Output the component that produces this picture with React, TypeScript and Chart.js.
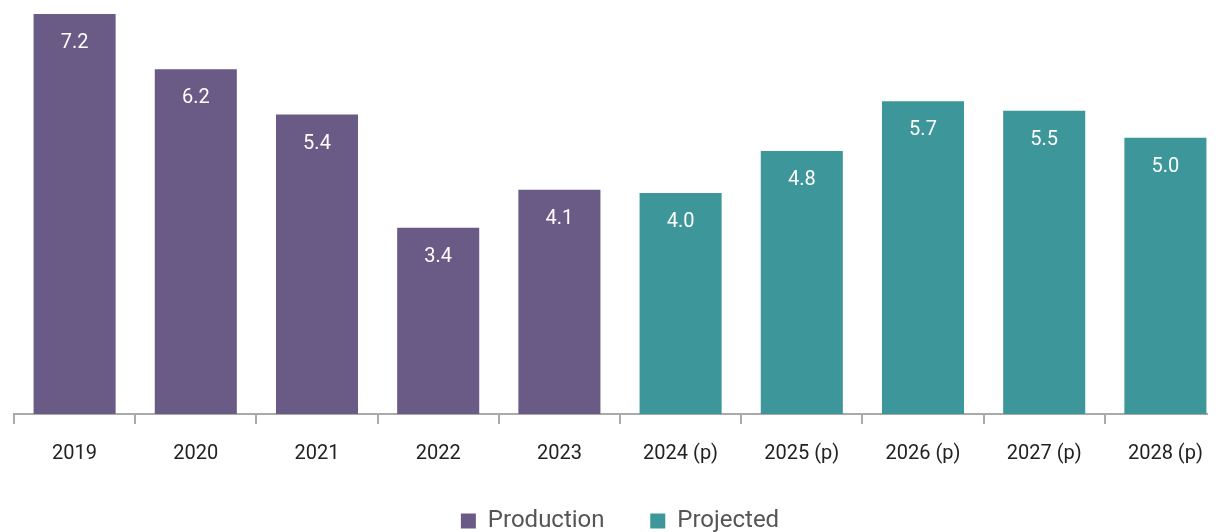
import React, { useEffect, useRef } from "react";
import { Chart, registerables } from "chart.js";

Chart.register(...registerables);

const categories = ["2019", "2020", "2021", "2022", "2023", "2024 (p)", "2025 (p)", "2026 (p)", "2027 (p)", "2028 (p)"];
const production = [7.24, 6.24, 5.42, 3.37, 4.06, null, null, null, null, null];
const projected = [null, null, null, null, null, 4.0, 4.76, 5.66, 5.49, 5.0];
const seriesNames = ["Production", "Projected"];
const colors = ["#6A5A86", "#3D9699"];

const FONT = "Roboto, 'Noto Sans', sans-serif";

const labelPlugin = {
  id: "barLabels",
  afterDatasetsDraw(chart: any) {
    const ctx = chart.ctx;
    ctx.save();
    ctx.font = `20px ${FONT}`;
    ctx.fillStyle = "#ffffff";
    ctx.textAlign = "center";
    ctx.textBaseline = "middle";
    chart.data.datasets.forEach((ds: any, i: number) => {
      const meta = chart.getDatasetMeta(i);
      meta.data.forEach((el: any, j: number) => {
        const v = ds.data[j];
        if (v === null || v === undefined) return;
        ctx.fillText(Number(v).toFixed(1), el.x, el.y + 29);
      });
    });
    ctx.restore();
  },
};

export default function App() {
  const ref = useRef<HTMLCanvasElement | null>(null);
  useEffect(() => {
    document.body.style.overflow = "hidden";
    if (!ref.current) return;
    const all = [...production, ...projected].filter((v) => v !== null) as number[];
    const chart = new Chart(ref.current, {
      type: "bar",
      data: {
        labels: categories,
        datasets: [
          { label: seriesNames[0], data: production as any, backgroundColor: colors[0], categoryPercentage: 1, barPercentage: 0.677 },
          { label: seriesNames[1], data: projected as any, backgroundColor: colors[1], categoryPercentage: 1, barPercentage: 0.677 },
        ],
      },
      options: {
        animation: false,
        responsive: true,
        maintainAspectRatio: false,
        layout: { padding: { left: 6, right: 12, top: 6, bottom: 0 } },
        plugins: {
          tooltip: { enabled: false },
          legend: {
            position: "bottom",
            labels: {
              boxWidth: 15,
              boxHeight: 15,
              padding: 10,
              color: "#555555",
              font: { family: FONT, size: 24 },
              generateLabels: (chart: any) => {
                const items = Chart.defaults.plugins.legend.labels.generateLabels(chart);
                items.forEach((it: any, i: number) => {
                  if (i < items.length - 1) it.text = it.text + "      ";
                });
                return items;
              },
            },
          },
        },
        scales: {
          x: {
            stacked: true,
            offset: true,
            grid: {
              offset: true,
              drawOnChartArea: false,
              drawTicks: true,
              tickLength: 10,
              color: "#aaaaaa",
              lineWidth: 2,
            },
            border: { display: true, color: "#aaaaaa", width: 2 },
            ticks: {
              color: "#222222",
              padding: 18,
              font: { family: FONT, size: 20 },
              maxRotation: 0,
              autoSkip: false,
            },
            afterFit: (s: any) => {
              s.height = 85;
            },
          },
          y: {
            stacked: true,
            display: false,
            min: 0,
            max: Math.max(...all),
          },
        },
      },
      plugins: [labelPlugin],
    });
    return () => chart.destroy();
  }, []);
  return (
    <div style={{ position: "relative", width: "1230px", height: "535px" }}>
      <canvas ref={ref} />
    </div>
  );
}
